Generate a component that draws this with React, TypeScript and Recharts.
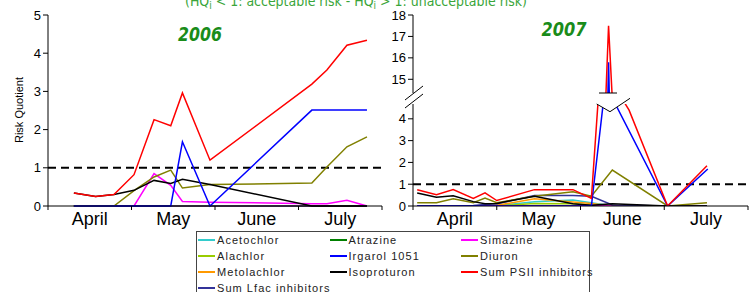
import React from 'react';
import { LineChart, Line, XAxis, YAxis, ReferenceLine } from 'recharts';

// month axis: 0 = start of April, 4 = end of July
const MONTHS = ['April', 'May', 'June', 'July'];
const BOUNDS = [0, 1, 2, 3, 4];
const MIDS = [0.5, 1.5, 2.5, 3.5];

// ---- 2006 ----
const dates06 = [0.31, 0.57, 0.79, 1.03, 1.27, 1.47, 1.61, 1.94, 3.16, 3.34, 3.58, 3.82];
const acetochlor06 = [0, 0, 0, 0, 0, 0, 0, 0, 0, 0, 0, 0];
const atrazine06 = [0, 0, 0, 0, 0, 0, 0, 0, 0, 0, 0, 0];
const simazine06 = [0, 0, 0, 0, 0.85, 0.54, 0.12, 0.1, 0.06, 0.06, 0.15, 0];
const alachlor06 = [0, 0, 0, 0, 0, 0, 0, 0, 0, 0, 0, 0];
const irgarol06 = [0, 0, 0, 0, 0, 0, 1.68, 0, 2.51, 2.51, 2.51, 2.51];
const diuron06 = [0, 0, 0, 0.4, 0.76, 0.94, 0.47, 0.56, 0.6, 1.02, 1.55, 1.81];
const metolachlor06 = [0, 0, 0, 0, 0, 0, 0, 0, 0, 0, 0, 0];
const isoproturon06 = [0.34, 0.25, 0.3, 0.41, 0.67, 0.59, 0.7, 0.56, 0, 0, 0, 0];
const psii06 = [0.34, 0.25, 0.3, 0.82, 2.26, 2.1, 2.96, 1.2, 3.19, 3.56, 4.21, 4.34];
const lfac06 = [0, 0, 0, 0, 0, 0, 0, 0, 0, 0, 0, 0];

// ---- 2007 ----
const dates07 = [0.05, 0.28, 0.48, 0.72, 0.86, 1.0, 1.45, 1.91, 2.13, 2.38, 3.04, 3.51];
const acetochlor07 = [0, 0, 0, 0, 0, 0.02, 0.2, 0.28, 0.15, 0, 0, 0];
const atrazine07 = [0, 0, 0, 0, 0, 0, 0, 0, 0, 0, 0, 0];
const simazine07 = [0, 0, 0, 0, 0, 0, 0, 0, 0.02, 0, 0, 0];
const alachlor07 = [0, 0, 0, 0, 0, 0, 0.12, 0.1, 0.05, 0, 0, 0];
const diuron07 = [0.15, 0.15, 0.33, 0.15, 0.37, 0.15, 0.45, 0.65, 0.45, 1.65, 0, 0.15];
const metolachlor07 = [0, 0, 0, 0, 0, 0.03, 0.33, 0.18, 0.12, 0, 0, 0];
const isoproturon07 = [0.6, 0.4, 0.47, 0.2, 0.1, 0.12, 0.45, 0.1, 0.03, 0.1, 0, 0];
const lfac07 = [0, 0, 0, 0.02, 0.07, 0.1, 0.48, 0.48, 0.45, 0.05, 0, 0];
const irgarolDates07 = [0.05, 0.28, 0.48, 0.72, 0.86, 1.0, 1.45, 1.91, 2.13, 2.28, 2.335, 2.4, 3.04, 3.52];
const irgarol07 = [0, 0, 0, 0, 0, 0, 0, 0, 0, 5.0, 15.8, 4.8, 0, 1.7];
const psiiDates07 = [0.05, 0.28, 0.48, 0.72, 0.86, 1.0, 1.45, 1.91, 2.13, 2.21, 2.335, 2.5, 2.58, 3.04, 3.51];
const psii07 = [0.75, 0.52, 0.75, 0.35, 0.6, 0.25, 0.75, 0.75, 0.35, 4.8, 17.5, 4.9, 4.4, 0, 1.85];

const SERIES = [
  { key: 'acetochlor', name: 'Acetochlor', color: '#33cccc' },
  { key: 'atrazine', name: 'Atrazine', color: '#008000' },
  { key: 'simazine', name: 'Simazine', color: '#ff00ff' },
  { key: 'alachlor', name: 'Alachlor', color: '#99cc00' },
  { key: 'irgarol', name: 'Irgarol 1051', color: '#0000ff' },
  { key: 'diuron', name: 'Diuron', color: '#808000' },
  { key: 'metolachlor', name: 'Metolachlor', color: '#ff9900' },
  { key: 'isoproturon', name: 'Isoproturon', color: '#000000' },
  { key: 'psii', name: 'Sum PSII inhibitors', color: '#ff0000' },
  { key: 'lfac', name: 'Sum Lfac inhibitors', color: '#333399' },
];

// later = drawn on top
const DRAW_ORDER = ['atrazine', 'acetochlor', 'alachlor', 'metolachlor', 'simazine', 'lfac', 'diuron', 'isoproturon', 'irgarol', 'psii'];

const pts = (xs: number[], ys: number[]) => xs.map((x, i) => ({ x, y: ys[i] }));

const rows06: Record<string, { x: number; y: number }[]> = {
  acetochlor: pts(dates06, acetochlor06),
  atrazine: pts(dates06, atrazine06),
  simazine: pts(dates06, simazine06),
  alachlor: pts(dates06, alachlor06),
  irgarol: pts(dates06, irgarol06),
  diuron: pts(dates06, diuron06),
  metolachlor: pts(dates06, metolachlor06),
  isoproturon: pts(dates06, isoproturon06),
  psii: pts(dates06, psii06),
  lfac: pts(dates06, lfac06),
};

const rows07: Record<string, { x: number; y: number }[]> = {
  acetochlor: pts(dates07, acetochlor07),
  atrazine: pts(dates07, atrazine07),
  simazine: pts(dates07, simazine07),
  alachlor: pts(dates07, alachlor07),
  irgarol: pts(irgarolDates07, irgarol07),
  diuron: pts(dates07, diuron07),
  metolachlor: pts(dates07, metolachlor07),
  isoproturon: pts(dates07, isoproturon07),
  psii: pts(psiiDates07, psii07),
  lfac: pts(dates07, lfac07),
};

const FONT = '"Liberation Sans", Arial, sans-serif';
const tickStyle = { fontSize: 13, fill: '#000', fontFamily: FONT };

const renderLines = (rows: Record<string, { x: number; y: number }[]>) =>
  DRAW_ORDER.map((k) => {
    const s = SERIES.find((d) => d.key === k)!;
    return (
      <Line
        key={k}
        data={rows[k]}
        dataKey="y"
        type="linear"
        stroke={s.color}
        strokeWidth={1.5}
        dot={false}
        activeDot={false}
        isAnimationActive={false}
      />
    );
  });

const monthAxes = () => [
  <XAxis
    key="b"
    dataKey="x"
    type="number"
    domain={[0, 4]}
    ticks={BOUNDS}
    tickFormatter={() => ''}
    height={4}
    tickSize={4}
    stroke="#000"
    allowDataOverflow
  />,
  <XAxis
    key="l"
    xAxisId="lbl"
    dataKey="x"
    type="number"
    domain={[0, 4]}
    ticks={MIDS}
    tickFormatter={(v: number) => MONTHS[Math.floor(v)]}
    axisLine={false}
    tickLine={false}
    tickSize={0}
    tickMargin={2}
    height={20}
    tick={{ fontSize: 18, fill: '#000', fontFamily: FONT }}
    allowDataOverflow
  />,
];

const Legend = () => (
  <div
    style={{
      position: 'absolute',
      left: 196,
      top: 231,
      width: 392,
      height: 80,
      border: '1px solid #444',
      background: '#fff',
      fontFamily: FONT,
      fontSize: 11,
      letterSpacing: 1.05,
      color: '#222',
    }}
  >
    {SERIES.map((s, i) => {
      const col = i % 3;
      const row = Math.floor(i / 3);
      return (
        <div
          key={s.key}
          style={{ position: 'absolute', left: 1 + col * 131.5, top: 1 + row * 15.9, height: 14, display: 'flex', alignItems: 'center', whiteSpace: 'nowrap' }}
        >
          <span style={{ display: 'inline-block', width: 17, height: 2, background: s.color, marginRight: 2 }} />
          <span>{s.name}</span>
        </div>
      );
    })}
  </div>
);

export default function App() {
  return (
    <div style={{ position: 'absolute', left: 0, top: 0, width: 756, height: 292, overflow: 'hidden', background: '#fff' }}>
      {/* 2006 */}
      <div style={{ position: 'absolute', left: 0, top: 0 }}>
        <LineChart width={400} height={230} margin={{ top: 15, right: 18, bottom: 0, left: 8 }}>
          {monthAxes()}
          <YAxis type="number" domain={[0, 5]} ticks={[0, 1, 2, 3, 4, 5]} width={40} tickSize={5} tick={tickStyle} stroke="#000" />
          <ReferenceLine y={1} stroke="#000" strokeWidth={2} strokeDasharray="8 5" />
          {renderLines(rows06)}
        </LineChart>
      </div>

      {/* 2007 upper part of broken axis */}
      <div style={{ position: 'absolute', left: 365, top: 0 }}>
        <LineChart width={400} height={93} margin={{ top: 15, right: 17, bottom: 0, left: 8 }}>
          <XAxis dataKey="x" type="number" domain={[0, 4]} hide allowDataOverflow />
          <YAxis type="number" domain={[14.36, 18]} ticks={[15, 16, 17, 18]} width={40} tickSize={5} tick={tickStyle} stroke="#000" allowDataOverflow />
          {renderLines(rows07)}
        </LineChart>
      </div>

      {/* 2007 lower part */}
      <div style={{ position: 'absolute', left: 365, top: 94 }}>
        <LineChart width={400} height={136} margin={{ top: 10, right: 17, bottom: 0, left: 8 }}>
          {monthAxes()}
          <YAxis type="number" domain={[0, 4.68]} ticks={[0, 1, 2, 3, 4]} width={40} tickSize={5} tick={tickStyle} stroke="#000" allowDataOverflow />
          <ReferenceLine y={1} stroke="#000" strokeWidth={2} strokeDasharray="8 5" />
          {renderLines(rows07)}
        </LineChart>
      </div>

      {/* titles, axis label, break marks */}
      <svg width={756} height={292} style={{ position: 'absolute', left: 0, top: 0, pointerEvents: 'none' }}>
        <text x={185} y={5.5} fontSize={14} fill="#3aa53a" fontFamily='"DejaVu Sans", sans-serif' textLength={342} lengthAdjust="spacingAndGlyphs">
          (HQ<tspan baselineShift="-3" fontSize={10}>i</tspan> &lt; 1: acceptable risk - HQ<tspan baselineShift="-3" fontSize={10}>i</tspan> &gt; 1: unacceptable risk)
        </text>
        <text x={200} y={41} textAnchor="middle" fontSize={19} fontWeight="bold" fontStyle="italic" fill="#1a8c1a" fontFamily='"DejaVu Sans", sans-serif' textLength={44} lengthAdjust="spacingAndGlyphs">
          2006
        </text>
        <text x={564} y={36} textAnchor="middle" fontSize={19} fontWeight="bold" fontStyle="italic" fill="#1a8c1a" fontFamily='"DejaVu Sans", sans-serif' textLength={45} lengthAdjust="spacingAndGlyphs">
          2007
        </text>
        <text transform="translate(23,110) rotate(-90)" textAnchor="middle" fontSize={11} fill="#000" fontFamily={FONT}>
          Risk Quotient
        </text>
        {/* axis break */}
        <line x1={405} y1={100} x2={423} y2={86} stroke="#000" strokeWidth={1} />
        <line x1={405} y1={108} x2={423} y2={94} stroke="#000" strokeWidth={1} />
        {/* spike break */}
        <polygon points="596,94 631,94 631,98 610,111.7 596.7,104" fill="#fff" />
        <polyline points="596.7,104 610,111.7 630,98.3" fill="none" stroke="#000" strokeWidth={1} />
        <line x1={599} y1={93} x2={617} y2={93} stroke="#000" strokeWidth={1} />
      </svg>

      <Legend />
    </div>
  );
}
